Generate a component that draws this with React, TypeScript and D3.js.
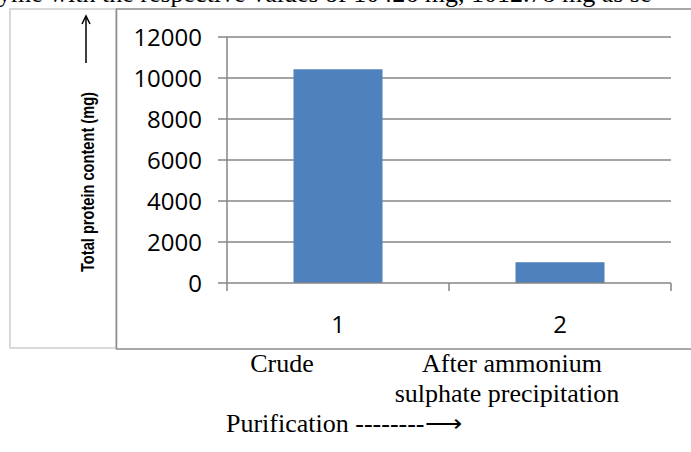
import React from "react";
import * as d3 from "d3";

const categories = ["1", "2"];
const values = [10426, 1012.78];
const yTicks = [0, 2000, 4000, 6000, 8000, 10000, 12000];
const xLabelLine1 = ["Crude", "After ammonium"];
const xLabelLine2 = ["", "sulphate precipitation"];
const topText = "yme with the respective values of 10426 mg, 1012.78 mg as  se";
const yTitle = "Total protein content (mg)";
const xTitle = "Purification  --------\u27F6";

export default function App() {
  const W = 691, H = 452;
  const x0 = 227, x1 = 671, y0 = 283, y1 = 37;
  const xb = d3.scaleBand<string>().domain(categories).range([x0, x1]);
  const y = d3.scaleLinear().domain([0, 12000]).range([y0, y1]);
  const axisGray = "#868686";
  return (
    <svg width={W} height={H} style={{ position: "absolute", left: 0, top: 0 }}>
      <rect width={W} height={H} fill="#fff" />
      <text x={-2} y={2} fontFamily="Liberation Serif" fontSize={26} fill="#000">{topText}</text>
      {/* left light box */}
      <rect x={10} y={9} width={106} height={339} fill="none" stroke="#d9d9d9" strokeWidth={2} />
      {/* main box */}
      <rect x={116.5} y={9} width={600} height={340} fill="#fff" stroke="#8c8c8c" strokeWidth={1.5} />
      {/* gridlines */}
      {yTicks.filter(t => t > 0).map(t => (
        <line key={t} x1={x0} x2={x1} y1={y(t)} y2={y(t)} stroke={axisGray} strokeWidth={1.5} />
      ))}
      {/* bars */}
      {categories.map((c, i) => (
        <rect key={c} x={xb(c)! + xb.bandwidth() / 2 - 44.5} width={89} y={y(values[i])} height={y0 - y(values[i])} fill="#4F81BD" />
      ))}
      {/* y axis */}
      <line x1={x0} x2={x0} y1={y1} y2={y0} stroke={axisGray} strokeWidth={1.5} />
      {yTicks.map(t => (
        <g key={t}>
          <line x1={x0 - 9} x2={x0} y1={y(t)} y2={y(t)} stroke={axisGray} strokeWidth={1.5} />
          <text x={202} y={y(t) + 8.5} textAnchor="end" fontFamily="Open Sans" fontSize={24} fill="#000">{t}</text>
        </g>
      ))}
      {/* x axis */}
      <line x1={x0} x2={x1} y1={y0} y2={y0} stroke={axisGray} strokeWidth={1.5} />
      {[x0, ...categories.map(c => xb(c)! + xb.bandwidth())].map((v, i) => (
        <line key={i} x1={v} x2={v} y1={y0} y2={y0 + 8} stroke={axisGray} strokeWidth={1.5} />
      ))}
      {categories.map(c => (
        <text key={c} x={xb(c)! + xb.bandwidth() / 2} y={333} textAnchor="middle" fontFamily="Open Sans" fontSize={24} fill="#000">{c}</text>
      ))}
      {/* y title */}
      <text transform="translate(94,182) rotate(-90)" textAnchor="middle" fontFamily="Liberation Sans" fontWeight="bold" fontSize={19} textLength={180} lengthAdjust="spacingAndGlyphs" fill="#000">{yTitle}</text>
      <line x1={86} x2={86} y1={63} y2={17} stroke="#000" strokeWidth={1.5} />
      <path d="M82,24 L86,16 L90,24" fill="none" stroke="#000" strokeWidth={1.5} />
      {/* external category labels */}
      {categories.map((c, i) => (
        <g key={c}>
          <text x={i === 0 ? 282 : 512} y={372} textAnchor="middle" fontFamily="Liberation Serif" fontSize={26} fill="#000">{xLabelLine1[i]}</text>
          <text x={i === 0 ? 282 : 507} y={402} textAnchor="middle" fontFamily="Liberation Serif" fontSize={26} fill="#000">{xLabelLine2[i]}</text>
        </g>
      ))}
      <text x={226} y={432} fontFamily="Liberation Serif" fontSize={26} fill="#000">{xTitle}</text>
    </svg>
  );
}
